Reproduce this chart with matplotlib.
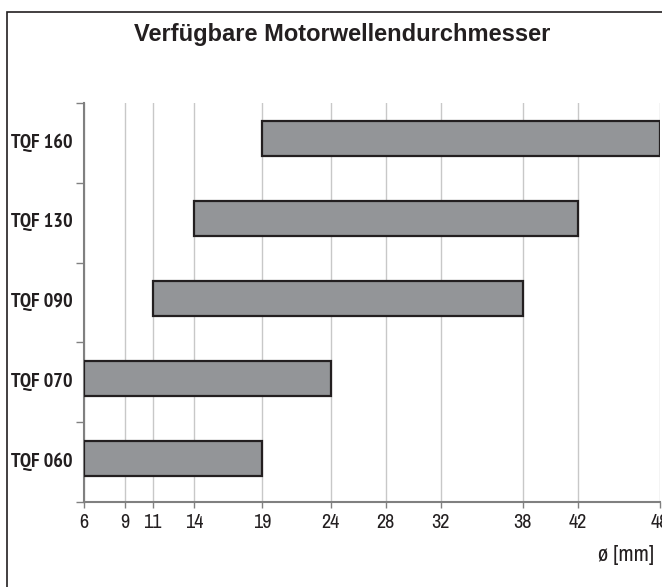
import matplotlib
matplotlib.use("Agg")
import matplotlib.pyplot as plt
from matplotlib.patches import Rectangle
from matplotlib import font_manager
from matplotlib.font_manager import FontProperties

categories = ["TQF 060", "TQF 070", "TQF 090", "TQF 130", "TQF 160"]
d_min = [6, 6, 11, 14, 19]
d_max = [19, 24, 38, 42, 48]
xticks = [6, 9, 11, 14, 19, 24, 28, 32, 38, 42, 48]
title = "Verfügbare Motorwellendurchmesser"
xlabel = "ø [mm]"


def find_condensed(bold):
    best = None
    for f in font_manager.fontManager.ttflist:
        nm = f.name
        fn = f.fname.lower()
        is_cond = ("narrow" in nm.lower() or "condensed" in fn or "narrow" in fn
                   or str(f.stretch) in ("condensed", "semi-condensed"))
        if not is_cond:
            continue
        if "oblique" in fn or "italic" in fn or f.style != "normal":
            continue
        w = f.weight if isinstance(f.weight, int) else (700 if "bold" in str(f.weight) else 400)
        if bold != (w >= 600):
            continue
        if "liberation" in fn or "narrow" in nm.lower():
            score = 3
        elif "dejavusans" in fn.replace("-", "").replace(" ", "") and "mono" not in fn:
            score = 2
        else:
            score = 1
        if best is None or score > best[0]:
            best = (score, f.fname)
    return best[1] if best else None


fb = find_condensed(True)
fr = find_condensed(False)
if fb and fr:
    lab_fp = FontProperties(fname=fb, size=14.5)
    tick_fp = FontProperties(fname=fr, size=14.5)
    xl_fp = FontProperties(fname=fr, size=16)
else:
    lab_fp = FontProperties(family="Liberation Sans", weight="bold", size=11.5)
    tick_fp = FontProperties(family="Liberation Sans", size=12)
    xl_fp = FontProperties(family="Liberation Sans", size=13)

W, H = 662, 587
fig = plt.figure(figsize=(W / 100, H / 100), dpi=100)
fig.patch.set_facecolor("white")

# outer frame
fig.add_artist(Rectangle((7 / W, -0.1), 1.2, 1.1 - 12 / H, transform=fig.transFigure,
                         fill=False, edgecolor="#231f20", linewidth=1.2))

ax = fig.add_axes([84 / W, 1 - 502 / H, (660 - 84) / W, (502 - 103) / H])
ypos = list(range(len(categories)))
bar_offset = 0.05
ax.barh([y + bar_offset for y in ypos], [b - a for a, b in zip(d_min, d_max)], left=d_min,
        height=0.44, color="#939598", edgecolor="#231f20", linewidth=1.6, zorder=3)

ax.set_xlim(6, 48)
ax.set_ylim(-0.5, len(categories) - 0.5)
ax.set_xticks(xticks)
ax.set_xticklabels([str(t) for t in xticks], fontproperties=tick_fp)
ax.set_yticks([y + 0.03 for y in ypos])
ax.set_yticklabels(categories, fontproperties=lab_fp)
ax.tick_params(axis="y", length=0, pad=8, labelcolor="#231f20")
ax.set_yticks([i - 0.5 for i in range(len(categories) + 1)], minor=True)
ax.tick_params(axis="y", which="minor", length=6, width=1, color="#808080", direction="out")
ax.tick_params(axis="x", length=4, width=1, color="#808080", pad=4, labelcolor="#231f20")

ax.grid(axis="x", color="#c8c8c8", linewidth=1.0, zorder=0)
ax.set_axisbelow(True)
for s in ["top", "right"]:
    ax.spines[s].set_visible(False)
for s in ["left", "bottom"]:
    ax.spines[s].set_color("#808080")
    ax.spines[s].set_linewidth(1.5)
ax.set_facecolor("white")

fig.text(342 / W, 1 - 34 / H, title, ha="center", va="center",
         fontfamily="Liberation Sans", fontsize=17, fontweight="bold", color="#231f20")
fig.text(598 / W, 1 - 555 / H, xlabel, ha="left", va="center",
         fontproperties=xl_fp, color="#231f20")

fig.savefig("out.png", dpi=100, facecolor="white")
